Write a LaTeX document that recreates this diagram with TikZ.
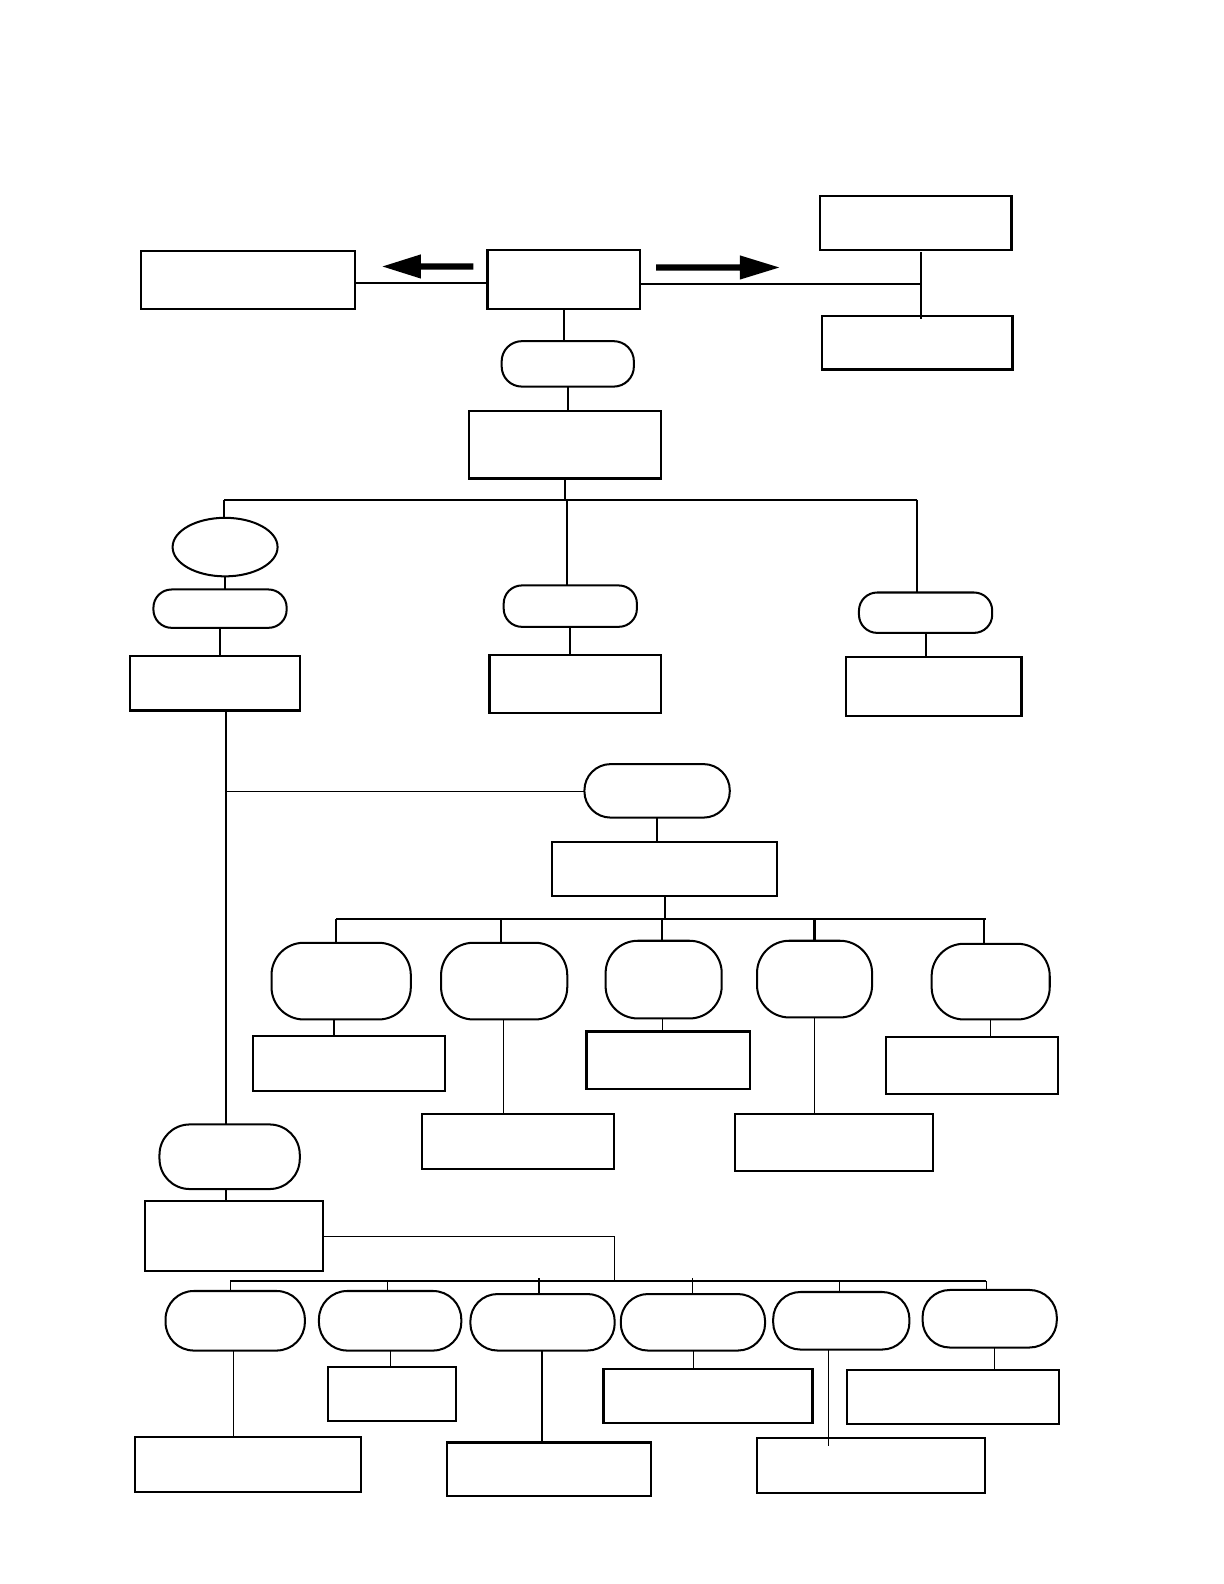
\documentclass[tikz,border=0pt]{standalone}
\usetikzlibrary{calc,shapes.geometric}
\tikzset{
  box/.style={draw, line width=2.2pt, inner sep=0pt, outer sep=0pt},
  pill/.style={draw, line width=2pt, inner sep=0pt, outer sep=0pt, rounded corners=#1},
  oval/.style={draw, ellipse, line width=2pt, inner sep=0pt, outer sep=0pt},
  thick line/.style={line width=2pt},
  thin line/.style={line width=1.2pt},
}
\newcommand\bx[6]{%
  \pgfmathsetmacro\cxx{(#2+#4)/2}%
  \pgfmathsetmacro\cyy{(#3+#5)/2}%
  \pgfmathsetmacro\www{#4-#2}%
  \pgfmathsetmacro\hhh{#5-#3}%
  \node[#6, minimum width=\www pt, minimum height=\hhh pt] (#1) at (\cxx,\cyy) {};}
\begin{document}
\begin{tikzpicture}[x=1pt,y=-1pt]
\useasboundingbox (0,0) rectangle (1212.6,1569.3);
% top row
\bx{L}{140}{249}{352}{306}{box}
\bx{C}{483}{248}{634}{306}{box}
\bx{RT}{812}{194}{1002}{248}{box}
\bx{RB}{814}{313}{1003}{366}{box}
% arrows
\fill (469,261) -- (417,261) -- (417,252) -- (379,264) -- (417,276) -- (417,267) -- (469,267) -- cycle;
\fill (650,262) -- (733,262) -- (733,253) -- (772,265) -- (733,277) -- (733,268) -- (650,268) -- cycle;
\coordinate (rj) at (912,281);
\coordinate (rjt) at (912,250);
\coordinate (rjb) at (912,316);
\draw[thick line] (L.east |- 0,280) -- (C.west |- 0,280);
\draw[thick line] (C.east |- rj) -- (rj);
\draw[thick line] (rjt) -- (rjb);
% second level
\bx{P1}{497}{338}{628}{383}{pill=20}
\bx{B2}{465}{407}{655}{474}{box}
\draw[thick line] (C.south) -- (C.south |- P1.north);
\draw[thick line] (P1.south) -- (P1.south |- B2.north);
\coordinate (busL) at (222,495);
\coordinate (busR) at (908,495);
\coordinate (busM) at (562,495);
\draw[thick line] (B2.south) -- (B2.south |- busM);
\draw[thick line] (busL) -- (busR);
% three branches
\node[oval, minimum width=104pt, minimum height=58pt] (E) at (223,542) {};
\bx{PL}{152}{584}{284}{622}{pill=18}
\bx{BL2}{129}{650}{297}{704}{box}
\bx{PM}{499}{580}{631}{621}{pill=18}
\bx{BM2}{485}{649}{655}{706}{box}
\bx{PR}{851}{587}{983}{627}{pill=18}
\bx{BR2}{838}{651}{1012}{709}{box}
\draw[thick line] (busL) -- (busL |- E.north);
\draw[thick line] (E.south) -- (E.south |- PL.north);
\draw[thick line] (PL.south) -- (PL.south |- BL2.north);
\draw[thick line] (busM) -- (busM |- PM.north);
\draw[thick line] (PM.south) -- (PM.south |- BM2.north);
\draw[thick line] (busR) -- (busR |- PR.north);
\draw[thick line] (PR.south) -- (PR.south |- BR2.north);
% middle section
\bx{PB}{579}{757}{723}{810}{pill=26}
\bx{B3}{547}{834}{770}{888}{box}
\coordinate (vtop) at (224,704);
\coordinate (vj) at (224,784);
\draw[thin line] (vj) -- (PB.west |- vj);
\draw[thick line] (PB.south) -- (PB.south |- B3.north);
\coordinate (bus2L) at (333,910);
\coordinate (bus2R) at (977,910);
\draw[thick line] (B3.south) -- (B3.south |- bus2L);
\draw[thick line] (bus2L) -- (bus2R);
\bx{Q1}{269}{934}{407}{1010}{pill=32}
\bx{Q2}{437}{934}{562}{1010}{pill=32}
\bx{Q3}{600}{932}{715}{1009}{pill=32}
\bx{Q4}{750}{932}{864}{1008}{pill=32}
\bx{Q5}{923}{935}{1040}{1010}{pill=32}
\coordinate (d1) at (333,910);
\coordinate (d2) at (496,910);
\coordinate (d3) at (656,910);
\coordinate (d4) at (807,910);
\coordinate (d5) at (975,910);
\draw[thick line] (d1) -- (d1 |- Q1.north);
\draw[thick line] (d2) -- (d2 |- Q2.north);
\draw[thick line] (d3) -- (d3 |- Q3.north);
\draw[line width=2.6pt] (d4) -- (d4 |- Q4.north);
\draw[thick line] (d5) -- (d5 |- Q5.north);
\bx{S1}{251}{1026}{441}{1081}{box}
\bx{S2}{418}{1104}{608}{1158}{box}
\bx{S3}{581}{1022}{743}{1079}{box}
\bx{S4}{728}{1104}{924}{1160}{box}
\bx{S5}{878}{1027}{1048}{1084}{box}
\coordinate (e1) at (331,1010);
\coordinate (e2) at (499,1010);
\coordinate (e3) at (656,1009);
\coordinate (e4) at (807,1008);
\coordinate (e5) at (981,1010);
\draw[thin line] (e1) -- (e1 |- S1.north);
\draw[thin line] (e2) -- (e2 |- S2.north);
\draw[thin line] (e3) -- (e3 |- S3.north);
\draw[thin line] (e4) -- (e4 |- S4.north);
\draw[thin line] (e5) -- (e5 |- S5.north);
% bottom section
\bx{PBL}{158}{1114}{297}{1178}{pill=30}
\bx{BBL}{144}{1190}{320}{1259}{box}
\draw[thin line] (vtop) -- (vtop |- PBL.north);
\draw[thin line] (PBL.south -| vtop) -- (vtop |- BBL.north);
\coordinate (k1) at (609,1225);
\coordinate (k2) at (609,1269);
\draw[thin line] (BBL.east |- k1) -- (k1) -- (k2);
\coordinate (bus3L) at (228,1269);
\coordinate (bus3R) at (977,1269);
\draw[thin line] (bus3L) -- (bus3R);
\bx{T1}{164}{1279}{302}{1338}{pill=28}
\bx{T2}{316}{1279}{457}{1338}{pill=28}
\bx{T3}{466}{1282}{609}{1338}{pill=27}
\bx{T4}{615}{1282}{758}{1338}{pill=27}
\bx{T5}{766}{1280}{901}{1337}{pill=27}
\bx{T6}{914}{1278}{1047}{1335}{pill=27}
\coordinate (f1) at (228,1269);
\coordinate (f2) at (384,1269);
\coordinate (f3) at (534,1266);
\coordinate (f4) at (686,1266);
\coordinate (f5) at (832,1269);
\coordinate (f6) at (977,1269);
\foreach \i in {1,...,6} {\draw[thin line] (f\i) -- (f\i |- T\i.north);}
\bx{U1}{134}{1424}{358}{1478}{box}
\bx{U2}{325}{1354}{452}{1408}{box}
\bx{U3}{443}{1429}{645}{1482}{box}
\bx{U4}{598}{1356}{805}{1410}{box}
\bx{U5}{750}{1425}{976}{1479}{box}
\bx{U6}{839}{1357}{1049}{1411}{box}
\coordinate (g1) at (231,1338);
\coordinate (g2) at (387,1338);
\coordinate (g3) at (537,1338);
\coordinate (g4) at (687,1338);
\coordinate (g5) at (821,1337);
\coordinate (g5e) at (821,1433);
\coordinate (g6) at (985,1335);
\draw[thin line] (g1) -- (g1 |- U1.north);
\draw[thin line] (g2) -- (g2 |- U2.north);
\draw[thin line] (g3) -- (g3 |- U3.north);
\draw[thin line] (g4) -- (g4 |- U4.north);
\draw[thin line] (g5) -- (g5e);
\draw[thin line] (g6) -- (g6 |- U6.north);
\end{tikzpicture}
\end{document}
